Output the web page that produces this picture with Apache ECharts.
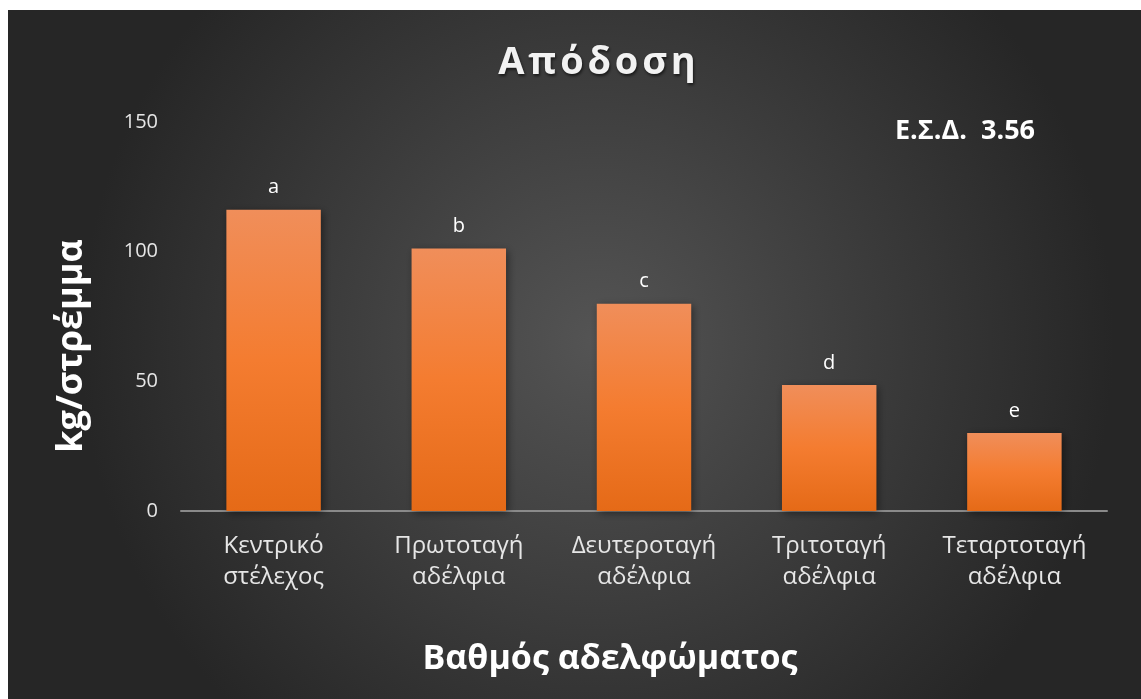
<!DOCTYPE html>
<html>
<head>
<meta charset="utf-8">
<script src="https://cdn.jsdelivr.net/npm/echarts@6/dist/echarts.min.js"></script>
<style>
  html, body { margin: 0; padding: 0; background: #ffffff; }
  #chart { position: absolute; left: 8px; top: 10px; width: 1133px; height: 689px; }
</style>
</head>
<body>
<div id="chart"></div>
<script>
// Yield per sibling rank (kg/στρέμμα) with significance letters
const categories = ['Κεντρικό\nστέλεχος', 'Πρωτοταγή\nαδέλφια', 'Δευτεροταγή\nαδέλφια', 'Τριτοταγή\nαδέλφια', 'Τεταρτοταγή\nαδέλφια'];
const yieldValues = [116.2, 101.2, 79.9, 48.6, 30.1];
const groupLetters = ['a', 'b', 'c', 'd', 'e'];
const yTicks = [0, 50, 100, 150];
const chartTitle = 'Απόδοση';
const xName = 'Βαθμός αδελφώματος';
const yName = 'kg/στρέμμα';
const lsdNote = 'Ε.Σ.Δ.  3.56';

const font = '"Open Sans", "Noto Sans", sans-serif';
// spread the title letters with hair spaces
const spaced = s => Array.from(s).join('\u200A');

const chart = echarts.init(document.getElementById('chart'));

chart.setOption({
  backgroundColor: {
    type: 'radial', x: 0.52, y: 0.48, r: 0.75,
    colorStops: [
      { offset: 0, color: '#545454' },
      { offset: 1, color: '#262626' }
    ]
  },
  textStyle: { fontFamily: font },
  title: [
    {
      text: spaced(chartTitle),
      left: 584, top: 29, textAlign: 'center',
      textStyle: { color: '#f2f2f2', fontSize: 38, fontWeight: 'bold', fontFamily: font,
                   textShadowColor: 'rgba(0,0,0,0.6)', textShadowBlur: 3, textShadowOffsetX: 1, textShadowOffsetY: 2 }
    },
    {
      text: xName,
      left: 597, top: 627, textAlign: 'center',
      textStyle: { color: '#ffffff', fontSize: 34, fontWeight: 'bold', fontFamily: font }
    },
    {
      text: lsdNote,
      left: 882, top: 103,
      textStyle: { color: '#ffffff', fontSize: 27, fontWeight: 'bold', fontFamily: font }
    }
  ],
  graphic: [{
    type: 'text',
    x: 64, y: 336,
    rotation: Math.PI / 2,
    style: {
      text: yName,
      fill: '#ffffff',
      font: 'bold 36px ' + font,
      align: 'center',
      verticalAlign: 'middle'
    }
  }],
  grid: { left: 173, right: 34, top: 112, bottom: 188 },
  xAxis: {
    type: 'category',
    data: categories,
    axisLine: { lineStyle: { color: '#8a8a8a', width: 2 } },
    axisTick: { show: false },
    axisLabel: { interval: 0, hideOverlap: false, color: '#e6e6e6', fontSize: 24, lineHeight: 31, margin: 20, fontFamily: font }
  },
  yAxis: {
    type: 'value',
    min: 0, max: 150, interval: 50,
    splitLine: { show: false },
    axisLine: { show: false },
    axisTick: { show: false },
    axisLabel: {
      color: '#e6e6e6', fontSize: 20, margin: 23, fontFamily: font,
      formatter: v => yTicks.includes(v) ? String(v) : ''
    }
  },
  series: [{
    type: 'bar',
    data: yieldValues,
    barWidth: '51%',
    itemStyle: {
      color: {
        type: 'linear', x: 0, y: 0, x2: 0, y2: 1,
        colorStops: [
          { offset: 0, color: '#f08e5a' },
          { offset: 0.5, color: '#f47c30' },
          { offset: 1, color: '#e56a17' }
        ]
      },
      shadowColor: 'rgba(0,0,0,0.45)', shadowBlur: 8, shadowOffsetX: 2, shadowOffsetY: 2
    },
    label: {
      show: true, position: 'top', distance: 12,
      color: '#ffffff', fontSize: 20, fontFamily: font,
      formatter: p => groupLetters[p.dataIndex]
    }
  }]
});
</script>
</body>
</html>
